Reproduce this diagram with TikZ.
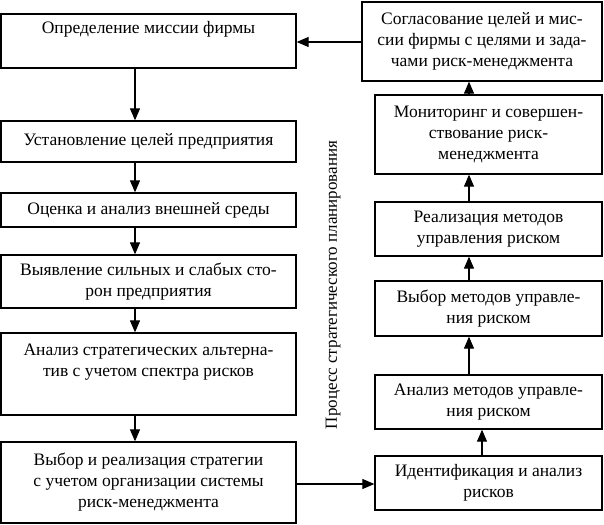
\documentclass[tikz,border=0pt]{standalone}
\usepackage{fontspec}
\setmainfont{Liberation Serif}
\usetikzlibrary{arrows.meta}
\begin{document}
\begin{tikzpicture}[x=1pt,y=-1pt,
  box/.style={draw, line width=1.3pt, inner sep=0pt, align=center, font=\fontsize{17.5}{21}\selectfont},
  lbox/.style={box, minimum width=295pt},
  rbox/.style={box, minimum width=227pt},
  arr/.style={line width=1.1pt, -{Triangle[length=12pt,width=10pt]}}]
\useasboundingbox (0,0) rectangle (604,524);
\coordinate (cl) at (135,0);
\coordinate (cr) at (469,0);
\coordinate (cr2) at (482,0);
% left column
\node[lbox, minimum height=54pt] (l1) at (148.5,41) {Определение миссии фирмы\\ \strut};
\node[lbox, minimum height=41pt] (l2) at (148.5,141.5) {Установление целей предприятия};
\node[lbox, minimum height=34pt] (l3) at (148.5,210) {Оценка и анализ внешней среды};
\node[lbox, minimum height=53pt] (l4) at (148.5,281.5) {Выявление сильных и слабых сто-\\рон предприятия};
\node[lbox, minimum height=82pt] (l5) at (148.5,374) {Анализ стратегических альтерна-\\тив с учетом спектра рисков\\ \strut};
\node[lbox, minimum height=81pt] (l6) at (148.5,482.5) {Выбор и реализация стратегии\\с учетом организации системы\\риск-менеджмента};
% right column
\node[box, minimum width=240pt, minimum height=79pt] (r1) at (482,41.5) {Согласование целей и мис-\\сии фирмы с целями и зада-\\чами риск-менеджмента};
\node[rbox, minimum height=79pt] (r2) at (488.5,134.5) {Мониторинг и совершен-\\ствование риск-\\менеджмента};
\node[rbox, minimum height=54pt] (r3) at (488.5,229) {Реализация методов\\управления риском};
\node[rbox, minimum height=55pt] (r4) at (488.5,308.5) {Выбор методов управле-\\ния риском};
\node[rbox, minimum height=54pt] (r5) at (488.5,402) {Анализ методов управле-\\ния риском};
\node[rbox, minimum height=54pt] (r6) at (488.5,483) {Идентификация и анализ\\рисков};
% vertical label
\node[rotate=90, font=\fontsize{17}{21}\selectfont] (lab) at (333,285) {Процесс стратегического планирования};
% arrows left
\draw[arr] (l1.south -| cl) -- (l2.north -| cl);
\draw[arr] (l2.south -| cl) -- (l3.north -| cl);
\draw[arr] (l3.south -| cl) -- (l4.north -| cl);
\draw[arr] (l4.south -| cl) -- (l5.north -| cl);
\draw[arr] (l5.south -| cl) -- (l6.north -| cl);
% arrows right
\draw[arr] (r6.north -| cr2) -- (r5.south -| cr2);
\draw[arr] (r5.north -| cr) -- (r4.south -| cr);
\draw[arr] (r4.north -| cr) -- (r3.south -| cr);
\draw[arr] (r3.north -| cr) -- (r2.south -| cr);
\draw[arr] (r2.north -| cr) -- (r1.south -| cr);
% cross arrows
\coordinate (yb) at (0,484);
\coordinate (yt) at (0,42);
\draw[arr] (l6.east |- yb) -- (r6.west |- yb);
\draw[arr] (r1.west |- yt) -- (l1.east |- yt);
\end{tikzpicture}
\end{document}
